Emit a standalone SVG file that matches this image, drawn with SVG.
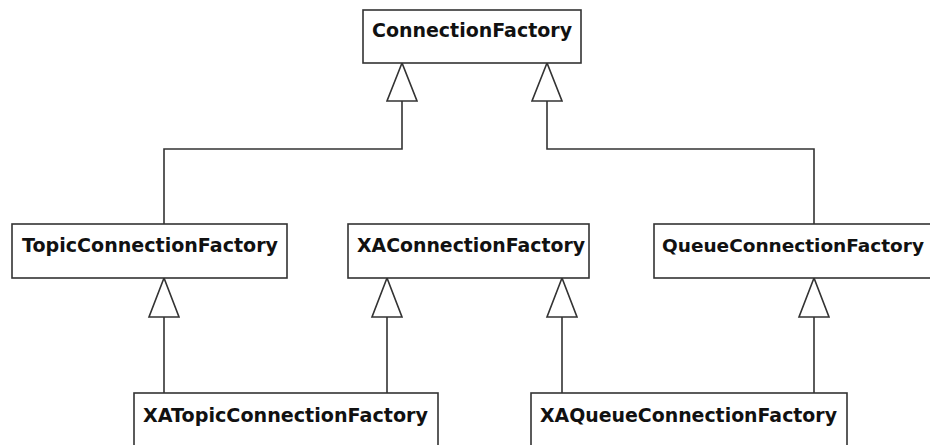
<svg xmlns="http://www.w3.org/2000/svg" width="930" height="445" viewBox="0 0 930 445">
<style>
.box{fill:#fff;stroke:#333;stroke-width:1.6}
.lbl{font-family:"DejaVu Sans","Liberation Sans",sans-serif;font-weight:bold;font-size:19.5px;fill:#111}
.ln{fill:none;stroke:#333;stroke-width:1.6}
.tri{fill:#fff;stroke:#333;stroke-width:1.6;stroke-linejoin:miter}
</style>
<rect width="930" height="445" fill="#fff"/>
<g id="connectors">
<path class="ln" d="M402,101 V149 H164 V224"/>
<path class="ln" d="M547,101 V149 H814 V224"/>
<path class="ln" d="M164,317 V393"/>
<path class="ln" d="M387,317 V393"/>
<path class="ln" d="M562,317 V393"/>
<path class="ln" d="M814,317 V393"/>
<polygon class="tri" points="402,63 387,101 417,101"/>
<polygon class="tri" points="547,63 532,101 562,101"/>
<polygon class="tri" points="164,278 149,317 179,317"/>
<polygon class="tri" points="387,278 372,317 402,317"/>
<polygon class="tri" points="562,278 547,317 577,317"/>
<polygon class="tri" points="814,278 799,317 829,317"/>
</g>
<g id="ConnectionFactory">
<rect class="box" x="363" y="10" width="218" height="53"/>
<text class="lbl" x="372" y="37" textLength="200" lengthAdjust="spacingAndGlyphs">ConnectionFactory</text>
</g>
<g id="TopicConnectionFactory">
<rect class="box" x="12" y="224" width="275" height="54"/>
<text class="lbl" x="22" y="252" textLength="256" lengthAdjust="spacingAndGlyphs">TopicConnectionFactory</text>
</g>
<g id="XAConnectionFactory">
<rect class="box" x="348" y="224" width="241" height="54"/>
<text class="lbl" x="357" y="252" textLength="228" lengthAdjust="spacingAndGlyphs">XAConnectionFactory</text>
</g>
<g id="QueueConnectionFactory">
<rect class="box" x="654" y="224" width="290" height="54"/>
<text class="lbl" x="662" y="252" style="font-size:18.4px" textLength="262" lengthAdjust="spacingAndGlyphs">QueueConnectionFactory</text>
</g>
<g id="XATopicConnectionFactory">
<rect class="box" x="134" y="393" width="304" height="70"/>
<text class="lbl" x="143" y="422" textLength="285" lengthAdjust="spacingAndGlyphs">XATopicConnectionFactory</text>
</g>
<g id="XAQueueConnectionFactory">
<rect class="box" x="531" y="393" width="316" height="70"/>
<text class="lbl" x="540" y="422" textLength="297" lengthAdjust="spacingAndGlyphs">XAQueueConnectionFactory</text>
</g>
</svg>
